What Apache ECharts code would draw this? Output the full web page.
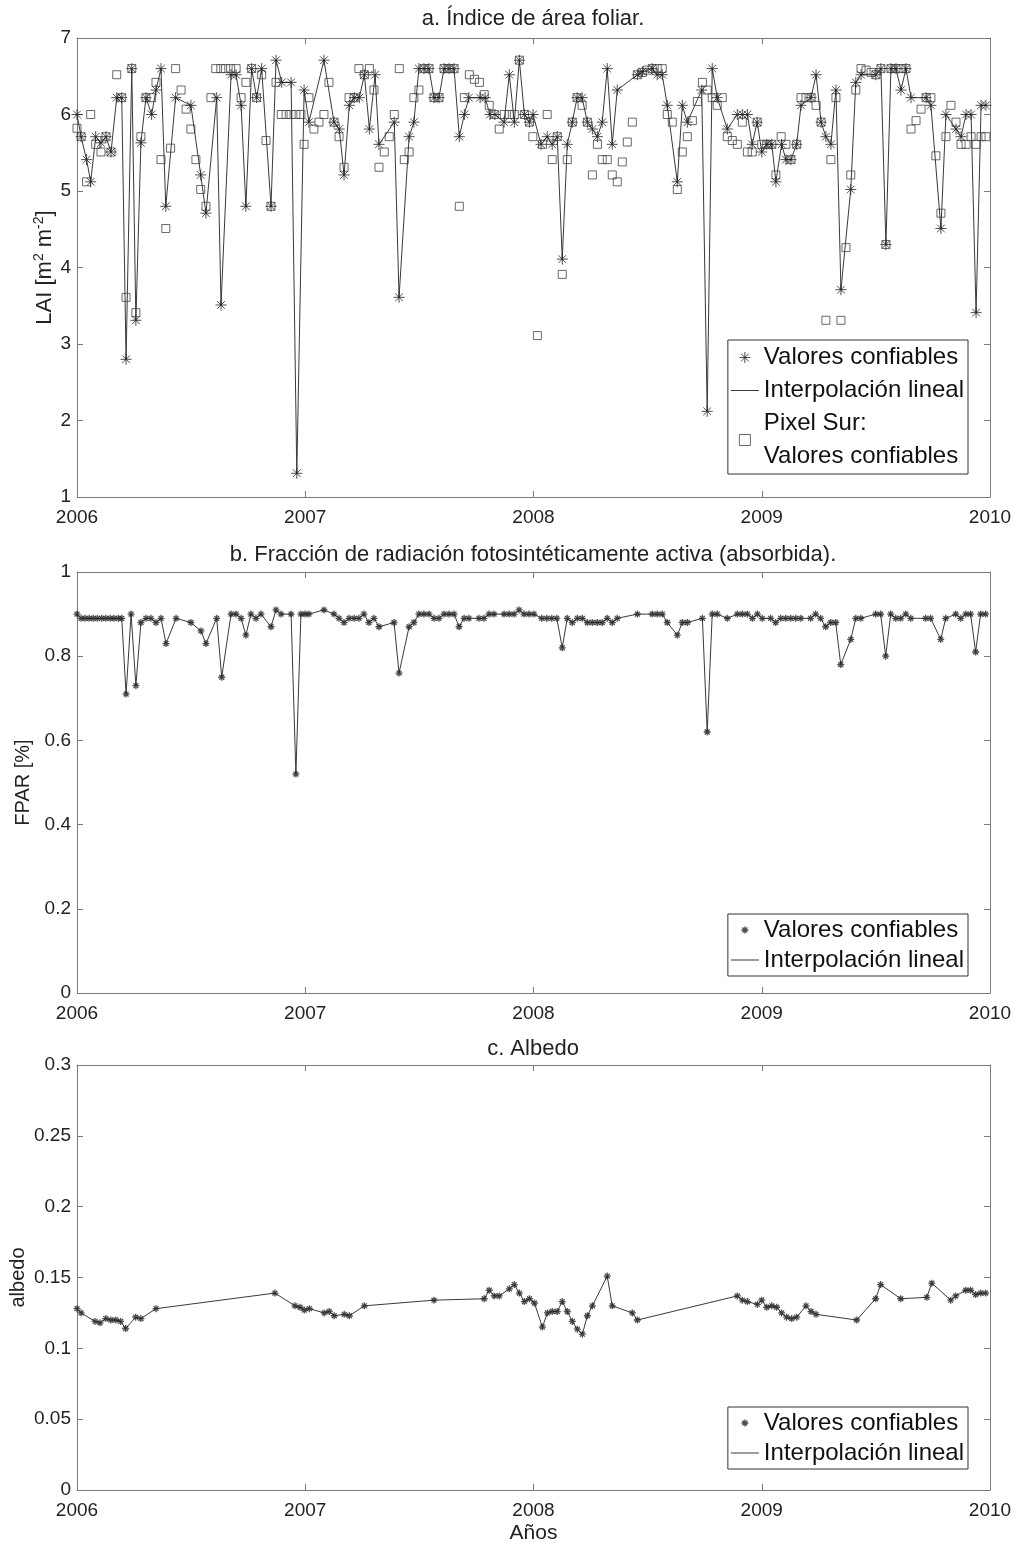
<!DOCTYPE html>
<html>
<head>
<meta charset="utf-8">
<script src="https://cdn.jsdelivr.net/npm/echarts@6/dist/echarts.min.js"></script>
<style>
html,body{margin:0;padding:0;background:#fff;}
#chart{width:1015px;height:1546px;}
</style>
</head>
<body>
<div id="chart"></div>
<script>
// a. LAI - valores confiables (pixel principal)
var laiYears = [2006.000,2006.018,2006.042,2006.060,2006.082,2006.105,2006.127,2006.149,2006.174,2006.196,2006.215,2006.240,2006.258,2006.280,2006.302,2006.327,2006.346,2006.368,2006.389,2006.432,2006.499,2006.542,2006.565,2006.612,2006.631,2006.675,2006.697,2006.719,2006.740,2006.765,2006.787,2006.809,2006.850,2006.872,2006.897,2006.938,2006.963,2006.995,
2007.016,2007.082,2007.126,2007.149,2007.170,2007.193,2007.215,2007.237,2007.259,2007.281,2007.306,2007.323,2007.390,2007.411,2007.455,2007.476,2007.498,2007.520,2007.542,2007.564,2007.586,2007.608,2007.630,2007.652,2007.675,2007.697,2007.717,2007.766,2007.788,2007.809,2007.831,2007.871,2007.894,2007.916,2007.938,2007.960,2007.982,2007.998,
2008.033,2008.060,2008.082,2008.104,2008.126,2008.148,2008.170,2008.191,2008.213,2008.236,2008.258,2008.280,2008.301,2008.323,2008.345,2008.367,2008.455,2008.477,2008.520,2008.542,2008.564,2008.586,2008.630,2008.652,2008.674,2008.737,2008.761,2008.783,2008.805,2008.849,2008.893,2008.915,2008.937,2008.958,2008.980,
2009.000,2009.022,2009.044,2009.062,2009.087,2009.106,2009.128,2009.153,2009.172,2009.216,2009.238,2009.260,2009.281,2009.303,2009.325,2009.347,2009.390,2009.412,2009.435,2009.500,2009.522,2009.544,2009.566,2009.588,2009.610,2009.632,2009.654,2009.720,2009.741,2009.785,2009.807,2009.851,2009.873,2009.895,2009.917,2009.939,2009.961,2009.982];
var laiValues = [6.0,5.71,5.41,5.12,5.71,5.63,5.71,5.51,6.22,6.22,2.8,6.6,3.31,5.63,6.22,6.0,6.32,6.6,4.8,6.22,6.12,5.21,4.71,6.22,3.51,6.52,6.52,6.12,4.8,6.6,6.22,6.6,4.8,6.71,6.42,6.42,1.31,6.32,
5.9,6.71,5.9,5.81,5.21,6.12,6.22,6.22,6.52,5.81,6.52,5.61,5.9,3.61,5.71,5.9,6.6,6.6,6.6,6.22,6.22,6.6,6.6,6.6,5.71,6.0,6.22,6.22,6.22,6.0,6.0,5.9,6.52,5.9,6.71,6.0,5.9,6.0,
5.61,5.71,5.61,5.71,4.11,5.61,5.9,6.22,6.22,5.9,5.81,5.71,5.9,6.6,5.61,6.32,6.52,6.56,6.6,6.52,6.52,6.12,5.12,6.12,5.9,6.32,2.12,6.6,6.22,5.81,6.0,6.0,6.0,5.61,5.9,
5.51,5.61,5.61,5.12,5.61,5.41,5.41,5.61,6.12,6.22,6.52,5.9,5.71,5.61,6.32,3.71,5.02,6.42,6.52,6.52,6.6,4.3,6.6,6.6,6.32,6.6,6.22,6.22,6.12,4.51,6.0,5.81,5.71,6.0,6.0,3.41,6.12,6.12];

// a. LAI - Pixel Sur
var surYears = [2006.000,2006.018,2006.042,2006.060,2006.082,2006.105,2006.127,2006.149,2006.174,2006.196,2006.215,2006.240,2006.258,2006.280,2006.302,2006.327,2006.346,2006.368,2006.389,2006.410,2006.432,2006.456,2006.478,2006.499,2006.521,2006.542,2006.565,2006.587,2006.608,2006.630,2006.651,2006.673,2006.697,2006.719,2006.740,2006.765,2006.787,2006.809,2006.828,2006.850,2006.872,2006.895,2006.916,2006.938,2006.959,2006.981,2006.995,
2007.016,2007.038,2007.060,2007.082,2007.104,2007.126,2007.148,2007.170,2007.192,2007.214,2007.235,2007.259,2007.281,2007.301,2007.323,2007.346,2007.368,2007.390,2007.412,2007.434,2007.455,2007.476,2007.498,2007.520,2007.542,2007.564,2007.586,2007.608,2007.630,2007.652,2007.675,2007.697,2007.719,2007.741,2007.763,2007.784,2007.806,2007.828,2007.850,2007.872,2007.894,2007.916,2007.938,2007.960,2007.982,2007.997,
2008.017,2008.039,2008.060,2008.082,2008.104,2008.126,2008.148,2008.170,2008.191,2008.213,2008.236,2008.258,2008.280,2008.301,2008.323,2008.345,2008.367,2008.389,2008.411,2008.433,2008.455,2008.477,2008.499,2008.520,2008.542,2008.564,2008.586,2008.608,2008.630,2008.652,2008.674,2008.696,2008.718,2008.740,2008.761,2008.783,2008.805,2008.827,2008.849,2008.871,2008.893,2008.915,2008.937,2008.958,2008.980,
2009.000,2009.022,2009.044,2009.062,2009.085,2009.106,2009.128,2009.153,2009.172,2009.194,2009.216,2009.238,2009.260,2009.281,2009.303,2009.325,2009.347,2009.369,2009.390,2009.412,2009.435,2009.457,2009.479,2009.500,2009.522,2009.544,2009.566,2009.588,2009.610,2009.632,2009.654,2009.676,2009.698,2009.720,2009.741,2009.763,2009.785,2009.807,2009.829,2009.851,2009.873,2009.895,2009.917,2009.939,2009.961,2009.982];
var surValues = [5.82,5.71,5.12,6.0,5.61,5.51,5.71,5.51,6.52,6.22,3.61,6.6,3.41,5.71,6.22,6.22,6.42,5.41,4.51,5.56,6.6,6.32,6.07,5.81,5.41,5.02,4.8,6.22,6.6,6.6,6.6,6.6,6.6,6.22,6.42,6.6,6.22,6.52,5.66,4.8,6.42,6.0,6.0,6.0,6.0,6.0,5.61,
6.22,5.81,5.9,6.0,6.42,5.9,5.71,5.31,6.22,6.22,6.6,6.52,6.6,6.32,5.31,5.51,5.71,6.0,6.6,5.41,5.51,6.22,6.32,6.6,6.6,6.22,6.22,6.6,6.6,6.6,4.8,6.22,6.52,6.46,6.42,6.26,6.12,6.0,5.81,6.0,6.0,6.0,6.71,6.0,5.9,5.71,
3.11,5.61,6.0,5.41,5.71,3.91,5.41,5.9,6.22,6.12,5.9,5.21,5.61,5.41,5.41,5.21,5.12,5.38,5.64,5.9,6.52,6.55,6.58,6.6,6.6,6.6,6.0,5.9,5.02,5.51,5.71,5.92,6.17,6.42,6.32,6.22,6.12,6.22,5.71,5.66,5.61,5.9,5.51,5.51,5.9,
5.61,5.61,5.61,5.21,5.71,5.61,5.41,5.61,6.22,6.22,6.22,6.12,5.9,3.31,5.41,6.22,3.31,4.26,5.21,6.32,6.6,6.58,6.55,6.52,6.6,4.3,6.6,6.6,6.6,6.6,5.81,5.92,6.07,6.22,6.22,5.46,4.71,5.71,6.12,5.9,5.61,5.61,5.71,5.61,5.71,5.71];

// b. FPAR
var fparYears = [2006.000,2006.018,2006.035,2006.053,2006.071,2006.089,2006.108,2006.126,2006.145,2006.162,2006.181,2006.196,2006.215,2006.237,2006.258,2006.280,2006.302,2006.324,2006.346,2006.368,2006.390,2006.434,2006.499,2006.543,2006.565,2006.612,2006.634,2006.675,2006.697,2006.719,2006.740,2006.762,2006.784,2006.806,2006.850,2006.872,2006.894,2006.938,2006.959,2006.981,2006.999,
2007.016,2007.082,2007.126,2007.148,2007.170,2007.192,2007.214,2007.235,2007.257,2007.279,2007.301,2007.323,2007.389,2007.411,2007.455,2007.476,2007.498,2007.520,2007.542,2007.564,2007.586,2007.608,2007.630,2007.652,2007.674,2007.696,2007.717,2007.761,2007.783,2007.805,2007.827,2007.871,2007.893,2007.915,2007.937,2007.958,2007.980,
2008.002,2008.036,2008.058,2008.080,2008.102,2008.126,2008.148,2008.170,2008.192,2008.214,2008.236,2008.258,2008.280,2008.301,2008.323,2008.345,2008.367,2008.455,2008.520,2008.542,2008.564,2008.586,2008.630,2008.652,2008.674,2008.740,2008.761,2008.783,2008.805,2008.849,2008.893,2008.915,2008.937,2008.959,2008.981,
2009.002,2009.039,2009.061,2009.083,2009.105,2009.127,2009.149,2009.171,2009.214,2009.236,2009.258,2009.280,2009.302,2009.324,2009.346,2009.390,2009.412,2009.434,2009.499,2009.521,2009.543,2009.565,2009.587,2009.609,2009.631,2009.653,2009.718,2009.740,2009.784,2009.806,2009.850,2009.872,2009.894,2009.915,2009.937,2009.959,2009.981];
var fparValues = [0.90,0.89,0.89,0.89,0.89,0.89,0.89,0.89,0.89,0.89,0.89,0.89,0.71,0.90,0.73,0.88,0.89,0.89,0.88,0.89,0.83,0.89,0.88,0.86,0.83,0.89,0.75,0.90,0.90,0.89,0.85,0.90,0.89,0.90,0.87,0.91,0.90,0.90,0.52,0.90,0.90,
0.90,0.91,0.90,0.89,0.88,0.89,0.89,0.89,0.90,0.88,0.89,0.87,0.88,0.76,0.87,0.88,0.90,0.90,0.90,0.89,0.89,0.90,0.90,0.90,0.87,0.89,0.89,0.89,0.89,0.90,0.90,0.90,0.90,0.90,0.91,0.90,0.90,
0.90,0.89,0.89,0.89,0.89,0.82,0.89,0.88,0.89,0.89,0.88,0.88,0.88,0.88,0.89,0.88,0.89,0.90,0.90,0.90,0.90,0.88,0.85,0.88,0.88,0.89,0.62,0.90,0.90,0.89,0.90,0.90,0.90,0.89,0.90,
0.89,0.89,0.88,0.89,0.89,0.89,0.89,0.89,0.89,0.90,0.89,0.87,0.88,0.88,0.78,0.84,0.89,0.89,0.90,0.90,0.80,0.90,0.89,0.89,0.90,0.89,0.89,0.89,0.84,0.89,0.90,0.89,0.90,0.90,0.81,0.90,0.90];

// c. Albedo
var albYears = [2006.000,2006.018,2006.079,2006.101,2006.126,2006.148,2006.170,2006.191,2006.213,2006.257,2006.280,2006.346,2006.867,2006.955,2006.977,2006.996,
2007.018,2007.083,2007.105,2007.127,2007.171,2007.193,2007.259,2007.564,2007.784,2007.806,2007.828,2007.850,2007.894,2007.916,2007.938,2007.960,2007.982,
2008.004,2008.039,2008.061,2008.082,2008.104,2008.126,2008.148,2008.170,2008.192,2008.214,2008.236,2008.258,2008.323,2008.345,2008.433,2008.455,2008.893,2008.915,2008.937,2008.981,
2009.000,2009.022,2009.044,2009.065,2009.087,2009.109,2009.131,2009.153,2009.194,2009.216,2009.238,2009.416,2009.499,2009.521,2009.609,2009.723,2009.745,2009.828,2009.850,2009.894,2009.915,2009.937,2009.959,2009.981];
var albValues = [0.128,0.125,0.119,0.118,0.121,0.120,0.120,0.119,0.114,0.122,0.121,0.128,0.139,0.130,0.129,0.127,
0.128,0.125,0.126,0.123,0.124,0.123,0.130,0.134,0.135,0.141,0.137,0.137,0.142,0.145,0.139,0.133,0.135,
0.132,0.115,0.125,0.126,0.126,0.133,0.126,0.119,0.1135,0.110,0.123,0.130,0.151,0.130,0.125,0.120,0.137,0.134,0.133,0.131,
0.134,0.129,0.130,0.129,0.125,0.122,0.121,0.122,0.130,0.126,0.124,0.120,0.135,0.145,0.135,0.136,0.146,0.134,0.137,0.141,0.141,0.138,0.139,0.139];

var yearTicks = [2006, 2007, 2008, 2009, 2010];

function pairs(xs, ys){
	var out = [];
	for (var i = 0; i < xs.length; i++) out.push([xs[i], ys[i]]);
	return out;
}

var FONT = '"Liberation Sans", Arial, sans-serif';
var AXIS_COLOR = '#7a7a7a';
var TEXT_COLOR = '#222';
var LINE_COLOR = '#3a3a3a';
// asterisco estilo matlab
var ASTER = 'path://M5,0L5,10M0,5L10,5M1.5,1.5L8.5,8.5M8.5,1.5L1.5,8.5';
var SQUARE = 'path://M0,0L10,0L10,10L0,10Z';
var DASH = 'path://M0,0L28,0L28,1L0,1Z';

var grids = [
	{left: 77, top: 38, width: 913, height: 459, outerBoundsMode: 'none', containLabel: false},
	{left: 77, top: 572, width: 913, height: 421, outerBoundsMode: 'none', containLabel: false},
	{left: 77, top: 1065, width: 913, height: 425, outerBoundsMode: 'none', containLabel: false}
];

function xAxes(g, withName){
	var base = {
		type: 'value', gridIndex: g, min: yearTicks[0], max: yearTicks[yearTicks.length-1], interval: 1,
		axisLine: {show: true, onZero: false, lineStyle: {color: AXIS_COLOR, width: 1}},
		axisTick: {show: true, inside: true, length: 6, lineStyle: {color: AXIS_COLOR}},
		splitLine: {show: false}
	};
	var bottom = Object.assign({}, base, {
		position: 'bottom',
		axisLabel: {color: TEXT_COLOR, fontSize: 19, fontFamily: FONT, margin: 11, formatter: function(v){return String(v);}}
	});
	if (withName) {
		bottom.name = 'Años';
		bottom.nameLocation = 'middle';
		bottom.nameGap = 33;
		bottom.nameMoveOverlap = false;
		bottom.nameTextStyle = {color: TEXT_COLOR, fontSize: 21, fontFamily: FONT};
	}
	var top = Object.assign({}, base, {position: 'top', axisLabel: {show: false}});
	return [bottom, top];
}

function yAxes(g, min, max, step, name, nameGap, nameStyle){
	var base = {
		type: 'value', gridIndex: g, min: min, max: max, interval: step,
		axisLine: {show: true, onZero: false, lineStyle: {color: AXIS_COLOR, width: 1}},
		axisTick: {show: true, inside: true, length: 6, lineStyle: {color: AXIS_COLOR}},
		splitLine: {show: false}
	};
	var left = Object.assign({}, base, {
		position: 'left',
		name: name, nameLocation: 'middle', nameGap: nameGap, nameTextStyle: nameStyle, nameMoveOverlap: false,
		axisLabel: {color: TEXT_COLOR, fontSize: 19, fontFamily: FONT, margin: 6, formatter: function(v){return String(v);}}
	});
	var right = Object.assign({}, base, {position: 'right', axisLabel: {show: false}});
	return [left, right];
}

var xAxis = [].concat(xAxes(0, false), xAxes(1, false), xAxes(2, true));
var yAxis = [].concat(
	yAxes(0, 1, 7, 1, 'LAI [m{sup|2} m{sup|-2}]', 19, {color: TEXT_COLOR, fontSize: 22, fontFamily: FONT,
		rich: {sup: {fontSize: 14, fontFamily: FONT, color: TEXT_COLOR, padding: [0, 0, 12, 0]}}}),
	yAxes(1, 0, 1, 0.2, 'FPAR [%]', 44, {color: TEXT_COLOR, fontSize: 20, fontFamily: FONT}),
	yAxes(2, 0, 0.3, 0.05, 'albedo', 49, {color: TEXT_COLOR, fontSize: 20, fontFamily: FONT})
);

function asteriskSeries(axisIdx, data, size, width){
	return {
		name: 'Valores confiables', type: 'scatter', xAxisIndex: axisIdx, yAxisIndex: axisIdx,
		data: data, symbol: ASTER, symbolSize: size, z: 4,
		itemStyle: {color: 'transparent', borderColor: '#222', borderWidth: width},
		emphasis: {disabled: true}
	};
}
function lineSeries(axisIdx, data){
	return {
		name: 'Interpolación lineal', type: 'line', xAxisIndex: axisIdx, yAxisIndex: axisIdx,
		data: data, symbol: 'none', z: 3,
		itemStyle: {color: LINE_COLOR},
		lineStyle: {color: LINE_COLOR, width: 1},
		emphasis: {disabled: true}
	};
}

var laiData = pairs(laiYears, laiValues);
var fparData = pairs(fparYears, fparValues);
var albData = pairs(albYears, albValues);

var series = [
	lineSeries(0, laiData),
	asteriskSeries(0, laiData, 11, 1),
	{
		name: 'Pixel Sur:\nValores confiables', type: 'scatter', xAxisIndex: 0, yAxisIndex: 0,
		data: pairs(surYears, surValues), symbol: SQUARE, symbolSize: 8, z: 2,
		itemStyle: {color: 'transparent', borderColor: '#444', borderWidth: 1},
		emphasis: {disabled: true}
	},
	lineSeries(2, fparData),
	asteriskSeries(2, fparData, 7, 1.3),
	lineSeries(4, albData),
	asteriskSeries(4, albData, 7, 1.3)
];

var legendText = {fontSize: 24, fontFamily: FONT, color: '#111'};
function legendBox(top, lh, iconH, items){
	return {
		orient: 'vertical', right: 47, top: top, padding: [1, 4, 1, 3], itemGap: 0,
		itemWidth: 28, itemHeight: iconH, selectedMode: false,
		borderColor: '#333', borderWidth: 1, backgroundColor: '#fff',
		textStyle: Object.assign({lineHeight: lh}, legendText),
		data: items
	};
}
var asterItem = function(w){
	return {name: 'Valores confiables', icon: ASTER, itemStyle: {color: 'transparent', borderColor: '#222', borderWidth: w}};
};
var lineItem = {name: 'Interpolación lineal', icon: DASH, itemStyle: {color: LINE_COLOR, borderWidth: 0}};

var option = {
	backgroundColor: '#fff',
	animation: false,
	title: [
		{text: 'a. Índice de área foliar.', left: 533, top: 8, padding: 0, textAlign: 'center',
			textStyle: {fontSize: 22, fontWeight: 'normal', fontFamily: FONT, color: TEXT_COLOR}},
		{text: 'b. Fracción de radiación fotosintéticamente activa (absorbida).', left: 533, top: 544, padding: 0, textAlign: 'center',
			textStyle: {fontSize: 22, fontWeight: 'normal', fontFamily: FONT, color: TEXT_COLOR}},
		{text: 'c. Albedo', left: 533, top: 1038, padding: 0, textAlign: 'center',
			textStyle: {fontSize: 22, fontWeight: 'normal', fontFamily: FONT, color: TEXT_COLOR}}
	],
	legend: [
		legendBox(340, 33, 11, [asterItem(1), lineItem,
			{name: 'Pixel Sur:\nValores confiables', icon: SQUARE, itemStyle: {color: 'transparent', borderColor: '#444', borderWidth: 1}}]),
		legendBox(914, 30, 7, [asterItem(1.3), lineItem]),
		legendBox(1407, 30, 7, [asterItem(1.3), lineItem])
	],
	grid: grids,
	xAxis: xAxis,
	yAxis: yAxis,
	series: series
};

var myChart = echarts.init(document.getElementById('chart'), null, {renderer: 'canvas'});
myChart.setOption(option);
</script>
</body>
</html>
